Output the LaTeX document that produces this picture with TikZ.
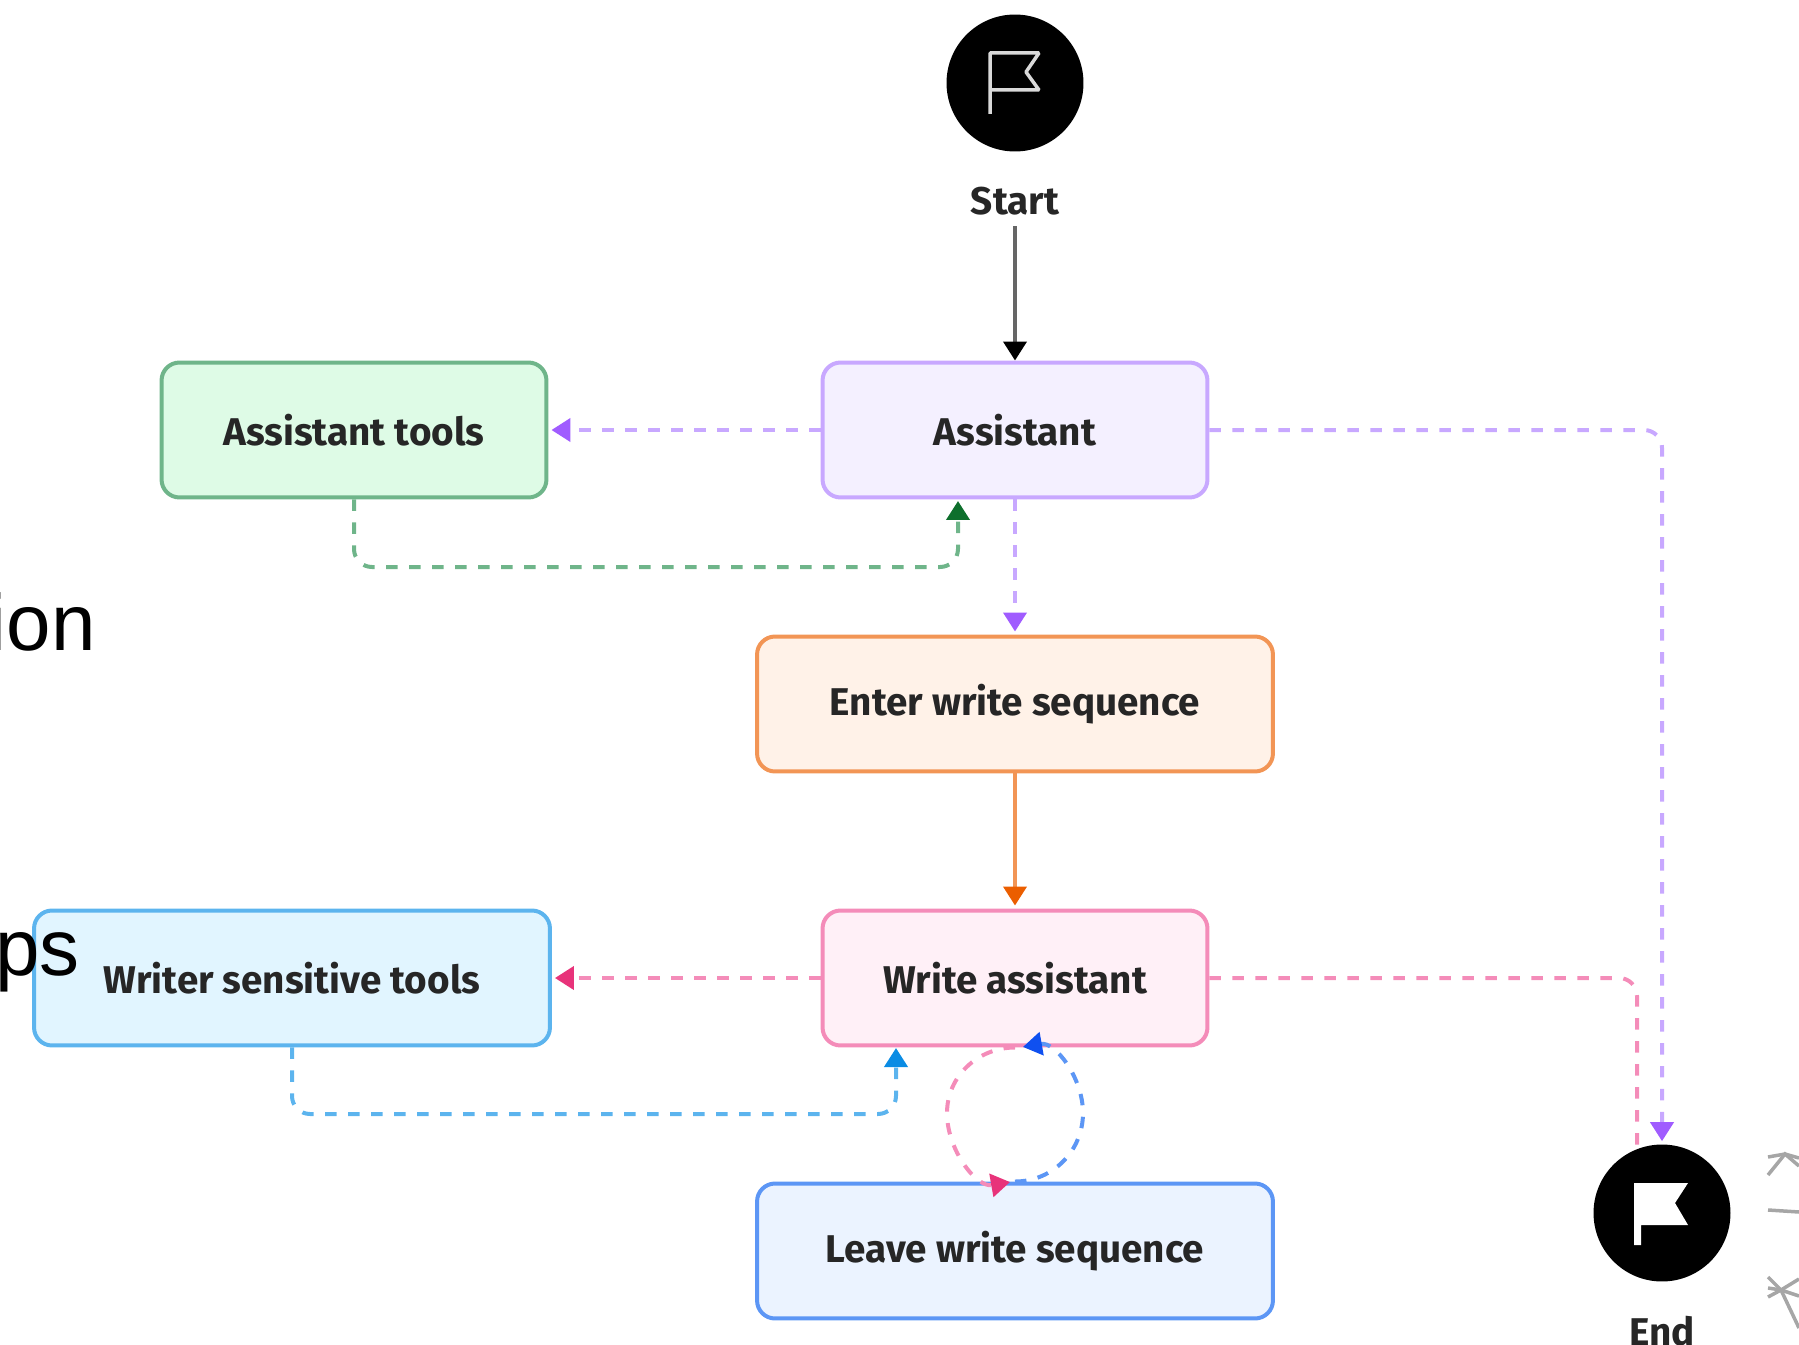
\documentclass[tikz,border=0pt]{standalone}
\usepackage{fontspec}
\setmainfont{Fira Sans}
\newfontfamily\backfont{Liberation Sans}
\usetikzlibrary{arrows.meta,positioning}
\definecolor{myPurple}{HTML}{C8A8FF}
\definecolor{myPurpleFill}{HTML}{F4F0FF}
\definecolor{myPurpleTip}{HTML}{A05CFF}
\definecolor{myGreen}{HTML}{6FB58A}
\definecolor{myGreenFill}{HTML}{DEFBE6}
\definecolor{myGreenTip}{HTML}{0E6F2C}
\definecolor{myOrange}{HTML}{F29555}
\definecolor{myOrangeFill}{HTML}{FFF2E8}
\definecolor{myOrangeTip}{HTML}{EB5E00}
\definecolor{myPink}{HTML}{F48CB9}
\definecolor{myPinkFill}{HTML}{FFF0F7}
\definecolor{myPinkTip}{HTML}{E8337A}
\definecolor{myCyan}{HTML}{5CB4EE}
\definecolor{myCyanFill}{HTML}{E1F5FF}
\definecolor{myCyanTip}{HTML}{0A8CE4}
\definecolor{myBlue}{HTML}{5C96F5}
\definecolor{myBlueFill}{HTML}{EBF3FF}
\definecolor{myBlueTip}{HTML}{0F50F0}
\tikzset{
  box/.style={draw,line width=0.08cm,rounded corners=0.36cm,minimum height=2.7cm,
    font=\fontsize{22}{24}\selectfont\bfseries,text=black!85},
  narrowbox/.style={box,minimum width=7.7cm},
  widebox/.style={box,minimum width=10.32cm},
  terminal/.style={circle,fill=black,minimum size=2.74cm,inner sep=0pt},
  caption/.style={font=\fontsize{22}{24}\selectfont\bfseries,text=black!85},
  backtext/.style={font=\backfont\fontsize{45.5}{50}\selectfont,anchor=base east,inner sep=0pt},
  flow/.style={line width=0.08cm,rounded corners=0.36cm},
  dashflow/.style={flow,dash pattern=on 0.23cm off 0.23cm},
  tip/.style={-{Triangle[length=0.38cm,width=0.46cm,color=#1]},shorten >=0.06cm},
  sketch/.style={line width=0.07cm,color=black!35},
}
\begin{document}
\begin{tikzpicture}[x=0.02cm,y=-0.02cm]
\useasboundingbox (0,0) rectangle (1799,1345);

% start and end
\node[terminal] (start) at (1015,83) {};
\node[caption] (startlabel) at (1015,201) {Start};
\node[terminal] (end) at (1662,1213) {};
\node[caption] (endlabel) at (1662,1331) {End};
\draw[line width=0.07cm,color=black!15!white,line join=bevel] (990,114) -- (990,53) -- (1039,53) -- (1026,72) -- (1039,90) -- (990,90);
\fill[white] (1634,1245) -- (1634,1183) -- (1688,1183) -- (1675,1203) -- (1688,1225) -- (1641,1225) -- (1641,1245) -- cycle;

% boxes
\node[narrowbox,color=myPurple,fill=myPurpleFill,text=black!85] (assistant) at (1015,430) {Assistant};
\node[narrowbox,color=myGreen,fill=myGreenFill,text=black!85] (assistanttools) at (354,430) {Assistant tools};
\node[widebox,color=myOrange,fill=myOrangeFill,text=black!85] (enter) at (1015,704) {Enter write sequence};
\node[narrowbox,color=myPink,fill=myPinkFill,text=black!85] (write) at (1015,978) {Write assistant};
\node[widebox,color=myCyan,fill=myCyanFill,text=black!85] (writertools) at (292,978) {Writer sensitive tools};
\node[widebox,color=myBlue,fill=myBlueFill,text=black!85] (leave) at (1015,1251) {Leave write sequence};

% text from behind
\node[backtext] (behindone) at (96,650) {ion};
\node[backtext] (behindtwo) at (80,975) {ps};

% connectors
\coordinate (loopleft) at (947,1113);
\coordinate (loopright) at (1083,1113);
\draw[line width=0.08cm,color=black!60,tip=black,shorten <=0.1cm,shorten >=0cm] (startlabel.south) -- (assistant.north);
\draw[dashflow,color=myPurple,tip=myPurpleTip] (assistant.west) -- (assistanttools.east);
\draw[dashflow,color=myPurple,tip=myPurpleTip] (assistant.south) -- (enter.north);
\draw[dashflow,color=myPurple,tip=myPurpleTip] (assistant.east) -| (end.north);
\draw[dashflow,color=myGreen,tip=myGreenTip] (assistanttools.south) |- (958,567) -- (958,498);
\draw[flow,color=myOrange,tip=myOrangeTip] (enter.south) -- (write.north);
\draw[dashflow,color=myPink,tip=myPinkTip] (write.west) -- (writertools.east);
\draw[dashflow,color=myPink] (write.east) -| (1637,1150);
\draw[dashflow,color=myCyan,tip=myCyanTip] (writertools.south) |- (896,1114) -- (896,1045);
\draw[dashflow,rounded corners=0,color=myPink,tip=myPinkTip] (write.south) to[out=180,in=90] (loopleft) to[out=-90,in=190] ([xshift=-0.04cm]leave.north);
\draw[dashflow,rounded corners=0,color=myBlue,tip=myBlueTip] (leave.north) to[out=0,in=-90] (loopright) to[out=90,in=10] ([xshift=0.1cm]write.south);

% sketch at the edge
\draw[sketch] (1768,1175) -- (1785,1154) -- (1799,1166);
\draw[sketch] (1768,1157) -- (1785,1154) -- (1799,1158);
\draw[sketch] (1768,1210) -- (1799,1212);
\draw[sketch] (1768,1277) -- (1781,1290) -- (1799,1328);
\draw[sketch] (1768,1297) -- (1781,1290) -- (1799,1279);
\draw[sketch] (1768,1288) -- (1781,1290) -- (1799,1296);
\end{tikzpicture}
\end{document}
